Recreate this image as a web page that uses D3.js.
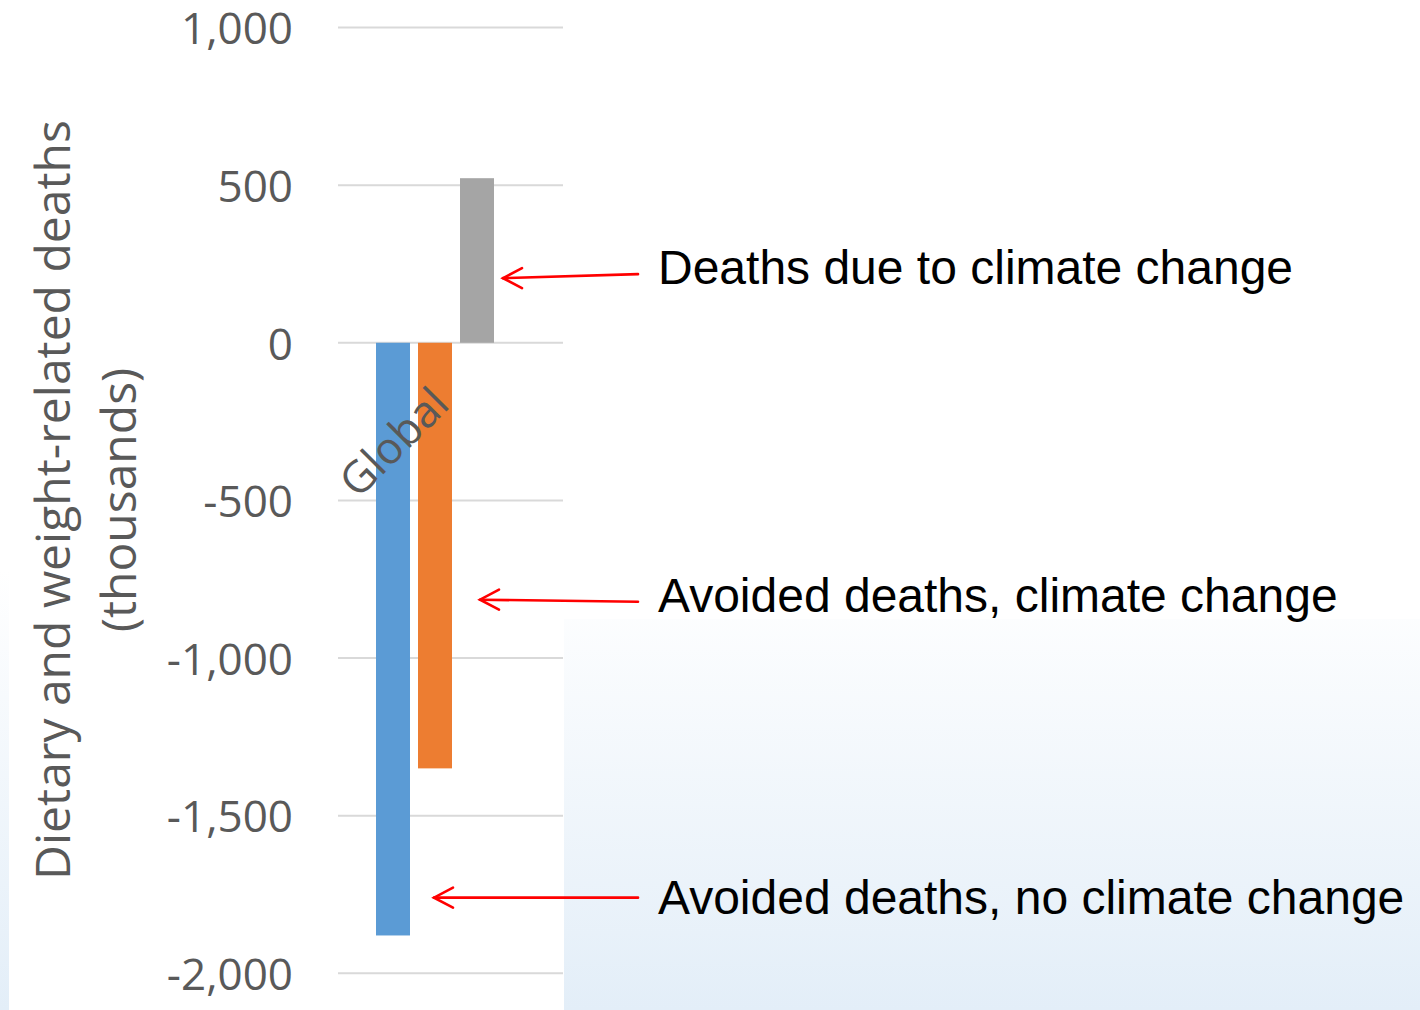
<!DOCTYPE html>
<html>
<head>
<meta charset="utf-8">
<script src="https://cdn.jsdelivr.net/npm/d3@7"></script>
<style>
  html, body { margin: 0; padding: 0; background: #ffffff; }
  svg { display: block; }
</style>
</head>
<body>
<svg id="chart" width="1420" height="1010"></svg>
<script>
// Regional results (thousands of deaths); negative = avoided deaths
const categories = ["Global"];
const seriesNames = ["Avoided deaths, no climate change", "Avoided deaths, climate change", "Deaths due to climate change"];
const seriesColors = ["#5b9bd5", "#ed7d31", "#a5a5a5"];
const globalValues = [-1880, -1350, 522];
const tickValues = [1000, 500, 0, -500, -1000, -1500, -2000];
const axisTitleLines = ["Dietary and weight-related deaths", "(thousands)"];

// Callouts: text, series they point at, value where the arrow sits
const calloutLabels = ["Deaths due to climate change", "Avoided deaths, climate change", "Avoided deaths, no climate change"];
const calloutSeries = [2, 1, 0];
const calloutValues = [205, -815, -1760];

const W = 1420, H = 1010;
const svg = d3.select("#chart");

// Backdrop: pale blue wash towards the bottom, white chart panel on top
const defs = svg.append("defs");
const grad = defs.append("linearGradient").attr("id", "wash")
  .attr("x1", 0).attr("y1", 0).attr("x2", 0).attr("y2", 1);
grad.append("stop").attr("offset", "0%").attr("stop-color", "#ffffff");
grad.append("stop").attr("offset", "100%").attr("stop-color", "#e3eef8");
svg.append("rect").attr("x", 0).attr("y", 0).attr("width", W).attr("height", H).attr("fill", "#ffffff");
svg.append("rect").attr("x", 0).attr("y", 570).attr("width", W).attr("height", H - 570).attr("fill", "url(#wash)");
svg.append("rect").attr("x", 564).attr("y", 0).attr("width", W - 564).attr("height", 619).attr("fill", "#ffffff");
svg.append("rect").attr("x", 9).attr("y", 0).attr("width", 555).attr("height", H).attr("fill", "#ffffff");

// Scales
const y = d3.scaleLinear().domain([-2000, 1000]).range([973.3, 27.5]);
const x0 = d3.scaleBand().domain(categories).range([338, 563]);
const x1 = d3.scaleBand().domain(d3.range(seriesNames.length)).paddingInner(8 / 42);

// Gridlines and tick labels through a left axis
const axis = d3.axisLeft(y).tickValues(tickValues).tickSize(0).tickPadding(0)
  .tickFormat(d3.format(","));
const gAxis = svg.append("g").attr("transform", "translate(293,0)").call(axis);
gAxis.select(".domain").remove();
gAxis.selectAll("text")
  .attr("font-family", "'Open Sans', sans-serif")
  .attr("font-size", 44)
  .attr("fill", "#595959")
  .attr("dy", "0.37em")
  .text(d => d3.format(",")(d).replace("−", "-"));

svg.append("g").selectAll("line").data(tickValues).join("line")
  .attr("x1", 338).attr("x2", 563)
  .attr("y1", d => y(d)).attr("y2", d => y(d))
  .attr("stroke", "#d9d9d9").attr("stroke-width", 2);

// Bars
const groups = svg.append("g").selectAll("g").data(categories).join("g");
groups.each(function (cat) {
  const left = x0(cat) + 38;
  x1.range([left, left + 118]);
  d3.select(this).selectAll("rect")
    .data(globalValues.map((v, i) => ({ v, i })))
    .join("rect")
    .attr("x", d => x1(d.i))
    .attr("width", x1.bandwidth())
    .attr("y", d => y(Math.max(0, d.v)))
    .attr("height", d => Math.abs(y(d.v) - y(0)))
    .attr("fill", d => seriesColors[d.i]);
});

// Category label, slanted across the bars
svg.append("g").selectAll("text").data(categories).join("text")
  .attr("transform", d => `translate(${x0(d) + x0.bandwidth() / 2 - 57},${y(0) + 99}) rotate(-45)`)
  .attr("text-anchor", "middle")
  .attr("dy", "0.36em")
  .attr("font-family", "'Open Sans', sans-serif")
  .attr("font-size", 44)
  .attr("fill", "#595959")
  .text(d => d);

// Axis title (two lines, rotated)
svg.append("g").selectAll("text").data(axisTitleLines).join("text")
  .attr("transform", (d, i) => `translate(${70 + i * 66},500) rotate(-90)`)
  .attr("text-anchor", "middle")
  .attr("font-family", "'Open Sans', sans-serif")
  .attr("font-size", 48)
  .attr("fill", "#595959")
  .text(d => d);

// Callout arrows and labels
const textX = 658, lineStart = 638;
const tipGap = [9, 28, 24];
const textBaselineOffset = [10, 10, 16];
const callouts = svg.append("g");
calloutLabels.forEach((label, k) => {
  const s = calloutSeries[k];
  const barRight = x1.range([x0(categories[0]) + 38, x0(categories[0]) + 156])(s) + x1.bandwidth();
  const tipX = barRight + tipGap[k];
  const yy = y(calloutValues[k]);
  const slope = k === 0 ? -4 : (k === 1 ? 2 : 0);
  const startY = yy + slope;
  const g = callouts.append("g")
    .attr("stroke", "#ff0000").attr("stroke-width", 2.6).attr("fill", "none")
    .attr("stroke-linecap", "round");
  g.append("line").attr("x1", lineStart).attr("y1", startY).attr("x2", tipX).attr("y2", yy);
  g.append("path").attr("d", `M${tipX + 19},${yy - 10} L${tipX},${yy} L${tipX + 19},${yy + 10}`);
  callouts.append("text")
    .attr("x", textX).attr("y", startY + textBaselineOffset[k])
    .attr("font-family", "'Liberation Sans', Arial, sans-serif")
    .attr("font-size", 48)
    .attr("fill", "#000000")
    .text(label);
});
</script>
</body>
</html>
